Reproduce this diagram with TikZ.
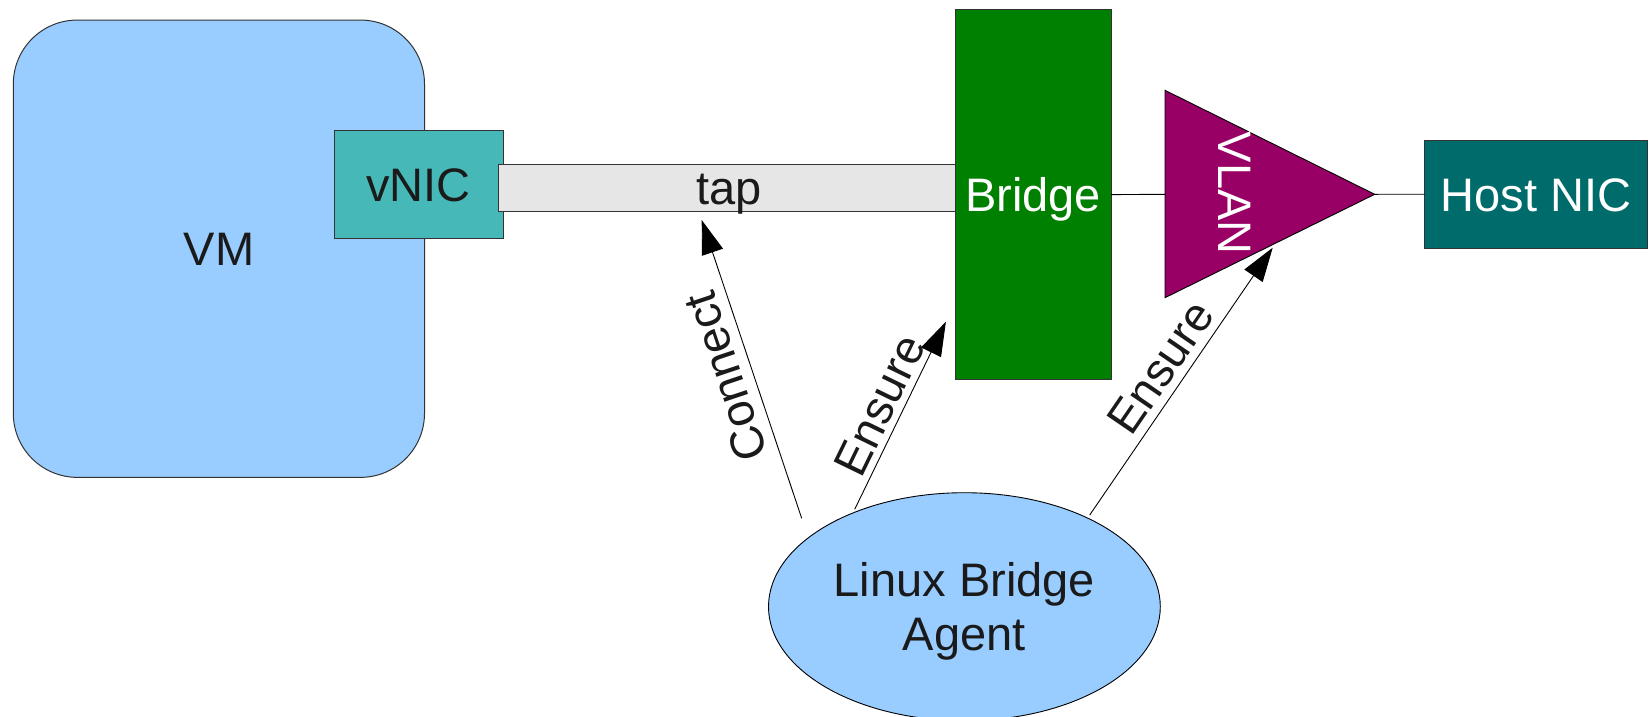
\documentclass[tikz,border=0pt]{standalone}
\usepackage{fontspec}
\setmainfont{Liberation Sans}
\usetikzlibrary{arrows.meta,shapes.geometric}

\definecolor{vmblue}{HTML}{99CCFF}
\definecolor{nicteal}{HTML}{47B8B8}
\definecolor{tapgray}{HTML}{E6E6E6}
\definecolor{brgreen}{HTML}{008000}
\definecolor{vlanpurple}{HTML}{990066}
\definecolor{hostteal}{HTML}{006B6B}
\definecolor{ink}{HTML}{1A1A1A}
\definecolor{edgegray}{HTML}{333333}

\begin{document}
\begin{tikzpicture}[x=1pt,y=-1pt,
  every node/.style={font=\fontsize{47}{53.3}\selectfont, inner sep=0pt, outer sep=0pt, text=ink},
  block/.style={draw=edgegray, line width=1pt, text height=33.6pt, text depth=0pt},
  whitetext/.style={text=white},
  wire/.style={draw=black, line width=0.9pt},
  action/.style={draw=black, line width=0.9pt, -{Triangle[length=34pt,width=22pt]}},
  actlabel/.style={text height=33.6pt, text depth=0pt}
]
\useasboundingbox (0,0) rectangle (1650,716);

% virtual machine with its virtual NIC
\node[block, fill=vmblue, rounded corners=64pt, minimum width=411.2pt, minimum height=457.3pt]
  (vm) at (218.9,248.7) {VM};
\node[block, fill=nicteal, minimum width=169.4pt, minimum height=108.4pt]
  (vnic) at (418.7,184.5) {vNIC};

% tap device leading into the bridge
\node[block, fill=tapgray, minimum width=461.9pt, minimum height=47pt]
  (tap) at (729.4,187.8) {tap};

% bridge
\node[block, fill=brgreen, whitetext, minimum width=156.2pt, minimum height=369.3pt]
  (bridge) at (1033.1,194.6) {Bridge};

% VLAN triangle
\coordinate (vlantop) at (1165,90.3);
\coordinate (vlanout) at (1374.7,194.3);
\coordinate (vlanbot) at (1165,297.7);
\coordinate (vlanin) at (1165,194.3);
\filldraw[fill=vlanpurple, draw=black, line width=0.9pt] (vlantop) -- (vlanout) -- (vlanbot) -- cycle;
\node[whitetext, rotate=-90, text height=33.6pt, text depth=0pt] (vlan) at (1235,193.3) {VLAN};

% host NIC
\node[block, fill=hostteal, whitetext, minimum width=223.2pt, minimum height=108.3pt]
  (hostnic) at (1536.1,194.2) {Host NIC};

\draw[wire] (bridge.east) -- (vlanin);
\draw[wire] (vlanout) -- (hostnic.west);

% agent (two centred lines; the box height keeps the pair centred)
\node[ellipse, draw=black, line width=0.9pt, fill=vmblue, minimum width=391.8pt, minimum height=228pt,
  align=center, text height=86.6pt, text depth=0pt]
  (agent) at (964.4,606.7) {Linux Bridge\\Agent};

% actions of the agent
\coordinate (conTail) at (801.7,518.3);
\coordinate (conTip) at (701.7,220);
\coordinate (br1Tail) at (854.7,509.3);
\coordinate (br1Tip) at (945.9,321.7);
\coordinate (vl1Tail) at (1089.7,515);
\coordinate (vl1Tip) at (1272.7,247.7);

\draw[action] (conTail) -- (conTip);
\draw[action] (br1Tail) -- (br1Tip);
\draw[action] (vl1Tail) -- (vl1Tip);

\node[actlabel, rotate=108.5] (conLabel) at (725,377) {Connect};
\node[actlabel, rotate=64.1] (br1Label) at (879,405) {Ensure};
\node[actlabel, rotate=55.6] (vl1Label) at (1160,367) {Ensure};
\end{tikzpicture}
\end{document}
